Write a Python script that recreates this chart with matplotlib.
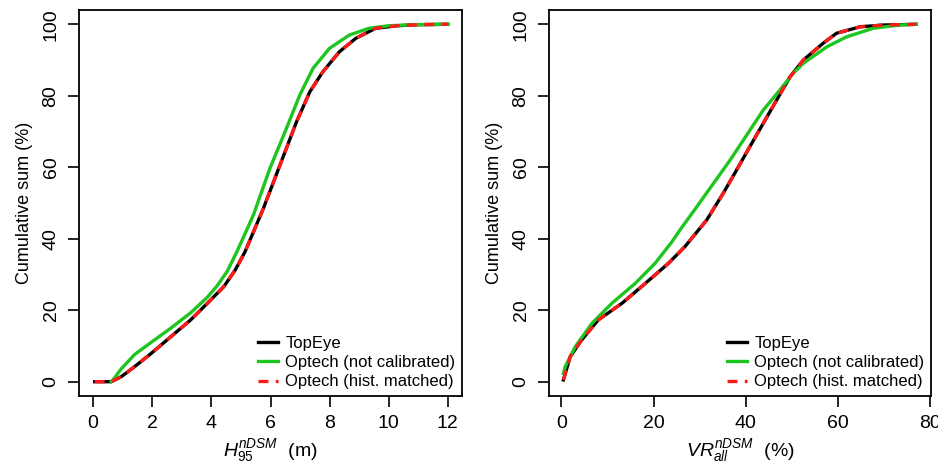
import matplotlib
matplotlib.use("Agg")
from matplotlib import pyplot as plt

plt.rcParams['font.family'] = ['Liberation Sans', 'DejaVu Sans']
plt.rcParams['mathtext.fontset'] = 'custom'
plt.rcParams['mathtext.rm'] = 'Liberation Sans'
plt.rcParams['mathtext.it'] = 'Liberation Sans:italic'

# panel 1: H95 (m)
h_top_x = [0.05, 0.61, 0.95, 1.4, 1.96, 2.63, 3.3, 3.86, 4.42, 4.81, 5.14, 5.76, 6.32,
           6.88, 7.33, 7.77, 8.33, 8.89, 9.56, 10.3, 11.0, 12.0]
h_top_y = [0, 0, 1.4, 4.2, 7.9, 12.6, 17.3, 21.9, 26.6, 31.3, 36.4, 48.5, 60.6,
           72.7, 81.1, 86.7, 92.3, 96.1, 98.9, 99.6, 99.9, 100]
h_opt_x = [0.61, 0.67, 0.95, 1.4, 1.96, 2.63, 3.3, 3.86, 4.19, 4.53, 4.87, 5.42,
           5.98, 6.54, 6.99, 7.44, 8.0, 8.67, 9.34, 10.0, 11.0, 12.0]
h_opt_y = [0, 0.5, 3.6, 7.6, 11.0, 15.0, 19.3, 23.6, 26.8, 30.8, 36.5, 46.6,
           59.7, 70.9, 80.2, 87.7, 93.3, 97.0, 98.9, 99.6, 99.9, 100]

# panel 2: VR all (%)
v_top_x = [0.43, 1.9, 4.4, 8.0, 13.1, 18.2, 23.2, 26.8, 31.5, 35.1, 38.0, 40.9, 43.8,
           46.7, 49.6, 52.5, 56.8, 59.7, 64.8, 70.0, 77.0]
v_top_y = [0.5, 7.0, 11.7, 17.3, 21.9, 27.5, 33.1, 37.8, 45.2, 52.7, 59.2, 65.8, 72.3,
           78.8, 85.3, 90.0, 94.7, 97.5, 99.3, 99.8, 100]
v_opt_x = [0.43, 0.8, 3.0, 6.6, 10.9, 16.0, 20.3, 23.9, 25.7, 29.4, 33.0, 36.6, 40.2,
           43.8, 47.4, 50.3, 52.5, 57.6, 61.9, 67.7, 73.5, 77.0]
v_opt_y = [2.3, 4.2, 9.8, 16.3, 21.9, 27.5, 33.1, 39.0, 42.4, 49.0, 55.5, 62.0, 69.0,
           76.0, 81.6, 86.3, 89.1, 93.7, 96.5, 98.9, 99.8, 100]

labels = ["TopEye", "Optech (not calibrated)", "Optech (hist. matched)"]

fig = plt.figure(figsize=(9.38, 4.65), dpi=100)
ax1 = fig.add_axes([79/938, 69/465, 383/938, 386/465])
ax2 = fig.add_axes([549/938, 69/465, 382/938, 386/465])

panels = [
    (ax1, h_top_x, h_top_y, h_opt_x, h_opt_y, (-0.48, 12.48), range(0, 13, 2),
     r'$H_{95}^{nDSM}$  (m)'),
    (ax2, v_top_x, v_top_y, v_opt_x, v_opt_y, (-2.7, 80.2), range(0, 81, 20),
     r'$VR_{all}^{nDSM}$  (%)'),
]

for ax, tx, ty, ox, oy, xlim, xt, xlab in panels:
    ax.plot(tx, ty, color="black", lw=2.4, label=labels[0])
    ax.plot(ox, oy, color="#1fc51f", lw=2.4, label=labels[1])
    ax.plot(tx, ty, color="#ff1a1a", lw=2.4, ls=(0, (3, 2.2)), label=labels[2])
    ax.set_xlim(*xlim)
    ax.set_ylim(-4, 104)
    ax.set_xticks(list(xt))
    ax.set_yticks(range(0, 101, 20))
    ax.tick_params(direction="out", length=8, width=1.2, labelsize=14, pad=6)
    for lab in ax.get_yticklabels():
        lab.set_rotation(90)
        lab.set_va("center")
    for s in ax.spines.values():
        s.set_linewidth(1.3)
    ax.set_ylabel("Cumulative sum (%)", fontsize=13, labelpad=7)
    ax.set_xlabel(xlab, fontsize=14, labelpad=3)
    ax.legend(loc="lower right", frameon=False, fontsize=12, handlelength=1.2,
              handletextpad=0.45, labelspacing=0.25, borderaxespad=0.2,
              borderpad=0.2)

fig.savefig("out.png", dpi=100)
